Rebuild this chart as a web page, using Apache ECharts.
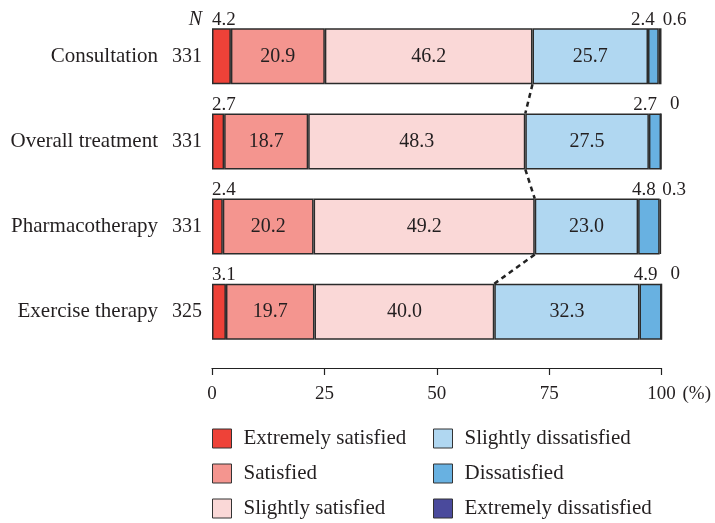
<!DOCTYPE html>
<html>
<head>
<meta charset="utf-8">
<script src="https://cdn.jsdelivr.net/npm/echarts@6/dist/echarts.min.js"></script>
<style>html,body{margin:0;padding:0;background:#fff}#c{width:715px;height:523px}</style>
</head>
<body>
<div id="c"></div>
<script>
const categories = ['Consultation', 'Overall treatment', 'Pharmacotherapy', 'Exercise therapy'];
const nValues = [331, 331, 331, 325];
const extremelySatisfied = [4.2, 2.7, 2.4, 3.1];
const satisfied = [20.9, 18.7, 20.2, 19.7];
const slightlySatisfied = [46.2, 48.3, 49.2, 40.0];
const slightlyDissatisfied = [25.7, 27.5, 23.0, 32.3];
const dissatisfied = [2.4, 2.7, 4.8, 4.9];
const extremelyDissatisfied = [0.6, 0, 0.3, 0];
const xTicks = [0, 25, 50, 75, 100];

const FONT = 'Liberation Serif';
const TXT = '#231f20';
const BAR_W = 56;
const border = {borderColor: '#2b2b2b', borderWidth: 1.5};

const chart = echarts.init(document.getElementById('c'));

function barSeries(name, data, color, label) {
  return {
    name: name, type: 'bar', stack: 'all', data: data, barWidth: BAR_W,
    itemStyle: Object.assign({color: color}, border),
    label: label, emphasis: {disabled: true}
  };
}
const inside = {show: true, position: 'inside', color: TXT, fontFamily: FONT, fontSize: 20, formatter: p => p.value.toFixed(1)};

// boundary between slightly satisfied and slightly dissatisfied
const boundary = categories.map((c, i) => extremelySatisfied[i] + satisfied[i] + slightlySatisfied[i]);

function legendCol(names, left) {
  return {data: names, orient: 'vertical', left: left, top: 428, height: 110, padding: 0,
    itemWidth: 19, itemHeight: 19, itemGap: 14, icon: 'rect', selectedMode: false,
    itemStyle: {borderColor: '#333', borderWidth: 1},
    textStyle: {fontFamily: FONT, fontSize: 21, color: TXT, padding: [0, 0, 0, 7]}};
}

const option = {
  animation: false,
  textStyle: {fontFamily: FONT, color: TXT},
  grid: {left: 212, right: 53.5, top: 13.7, bottom: 168.7, containLabel: false},
  xAxis: {
    type: 'value', min: 0, max: 100, interval: 25, offset: 13.7,
    axisLine: {show: true, lineStyle: {color: '#222', width: 1.2}},
    axisTick: {show: true, length: 7, lineStyle: {color: '#222', width: 1.2}},
    splitLine: {show: false},
    axisLabel: {color: TXT, fontFamily: FONT, fontSize: 19, margin: 17,
      formatter: v => xTicks.includes(v) ? String(v) : ''},
    name: '(%)', nameLocation: 'end', nameGap: 21,
    nameTextStyle: {color: TXT, fontFamily: FONT, fontSize: 19, verticalAlign: 'top', padding: [17, 0, 0, 0]}
  },
  yAxis: {
    type: 'category', data: categories, inverse: true,
    axisLine: {show: false}, axisTick: {show: false}, splitLine: {show: false},
    axisLabel: {
      margin: 10,
      formatter: (v, idx) => '{c|' + v + '}{n|' + nValues[idx] + '}',
      rich: {
        c: {fontFamily: FONT, fontSize: 21, color: TXT},
        n: {fontFamily: FONT, fontSize: 20, color: TXT, width: 44, align: 'right'}
      }
    }
  },
  legend: [
    legendCol(['Extremely satisfied', 'Satisfied', 'Slightly satisfied'], 212),
    legendCol(['Slightly dissatisfied', 'Dissatisfied', 'Extremely dissatisfied'], 433)
  ],
  series: [
    barSeries('Extremely satisfied', extremelySatisfied, '#ee4238',
      {show: true, position: [0, 1], align: 'left', verticalAlign: 'bottom', color: TXT, fontFamily: FONT, fontSize: 19, formatter: p => String(p.value)}),
    barSeries('Satisfied', satisfied, '#f4958f', inside),
    barSeries('Slightly satisfied', slightlySatisfied, '#fad8d7', inside),
    barSeries('Slightly dissatisfied', slightlyDissatisfied, '#b0d7f1', inside),
    barSeries('Dissatisfied', dissatisfied, '#68b1e1',
      {show: true, position: ['100%', 1], offset: [-4, 0], align: 'right', verticalAlign: 'bottom', color: TXT, fontFamily: FONT, fontSize: 19, formatter: p => String(p.value)}),
    barSeries('Extremely dissatisfied', extremelyDissatisfied, '#4a4a9c',
      {show: true, position: ['100%', 1], offset: [13, 0], align: 'center', verticalAlign: 'bottom', color: TXT, fontFamily: FONT, fontSize: 19, formatter: p => String(p.value)}),
    {
      type: 'custom', name: 'connector', silent: true, z: 10,
      data: [0, 1, 2],
      renderItem: function (params, api) {
        const i = api.value(0);
        const p1 = api.coord([boundary[i], i]);
        const p2 = api.coord([boundary[i + 1], i + 1]);
        return {
          type: 'line',
          shape: {x1: p1[0], y1: p1[1] + BAR_W / 2, x2: p2[0], y2: p2[1] - BAR_W / 2},
          style: {stroke: '#222', lineWidth: 2.5, lineDash: [5, 4]}
        };
      },
      encode: {x: -1, y: 0}
    }
  ]
};
chart.setOption(option);

const p0 = chart.convertToPixel({xAxisIndex: 0, yAxisIndex: 0}, [0, 0]);
chart.setOption({
  graphic: [{
    type: 'text', x: p0[0] - 10, y: p0[1] - BAR_W / 2 + 1,
    style: {text: 'N', fontFamily: FONT, fontStyle: 'italic', fontSize: 20, fill: TXT, align: 'right', verticalAlign: 'bottom'}
  }]
});
</script>
</body>
</html>
